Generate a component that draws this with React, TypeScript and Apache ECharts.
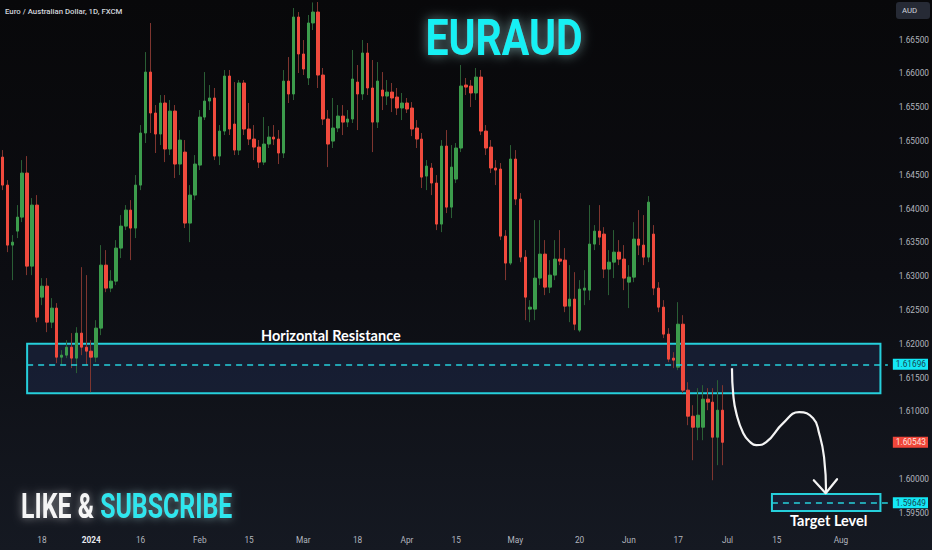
import React, { useEffect, useRef } from "react";
import * as echarts from "echarts";

// ---------- data ----------
const START_DATE = "2023-12-06";
const HOLIDAYS = ["2024-01-01"];
const CATEGORY_COUNT = 180; // trading days shown on the time axis (incl. future space)

const open = [
  1.64762, 1.64348, 1.6346, 1.63667, 1.63874, 1.64526, 1.63149, 1.64052, 1.6269, 1.62853,
  1.6232, 1.62528, 1.61802, 1.61832, 1.6195, 1.61788, 1.62158, 1.6195, 1.61891, 1.61802,
  1.62232, 1.63164, 1.62824, 1.62927, 1.63416, 1.63741, 1.63978, 1.63712, 1.64348, 1.65118,
  1.6602, 1.65414, 1.65103, 1.65562, 1.64881, 1.65443, 1.64659, 1.64836, 1.63786, 1.642,
  1.64644, 1.65354, 1.65591, 1.65636, 1.64777, 1.65147, 1.65961, 1.65251, 1.64866, 1.65858,
  1.65177, 1.65029, 1.6491, 1.64688, 1.64955, 1.65058, 1.65029, 1.64822, 1.65887, 1.65695,
  1.66834, 1.66287, 1.65932, 1.66746, 1.66908, 1.65976, 1.65325, 1.64999, 1.65192, 1.65369,
  1.6528, 1.65325, 1.65872, 1.65695, 1.66302, 1.65784, 1.6528, 1.65754, 1.65665, 1.65724,
  1.6565, 1.65488, 1.65562, 1.65488, 1.65192, 1.65029, 1.64481, 1.646, 1.64378, 1.63771,
  1.64925, 1.64022, 1.64437, 1.64896, 1.65828, 1.65813, 1.6571, 1.65946, 1.65147, 1.6491,
  1.646, 1.64585, 1.63593, 1.63194, 1.64733, 1.64141, 1.63282, 1.62513, 1.62513, 1.62972,
  1.63327, 1.62838, 1.63016, 1.63253, 1.63238, 1.62557, 1.62661, 1.62202, 1.62794, 1.62794,
  1.63475, 1.63667, 1.63623, 1.63105, 1.63208, 1.63356, 1.63253, 1.62912, 1.62986, 1.63549,
  1.6346, 1.63282, 1.63623, 1.62824, 1.62542, 1.62143, 1.61788, 1.61654, 1.6229, 1.61314,
  1.60929, 1.60766, 1.60766, 1.61181, 1.61137, 1.60618, 1.61018,
];
const close = [
  1.64348, 1.6346, 1.63504, 1.63874, 1.64526, 1.63149, 1.64052, 1.62394, 1.62853, 1.6232,
  1.62528, 1.61802, 1.61832, 1.6195, 1.61788, 1.62158, 1.6195, 1.61891, 1.61802, 1.62232,
  1.63164, 1.62824, 1.62927, 1.63416, 1.63741, 1.63978, 1.63712, 1.64348, 1.65118, 1.6602,
  1.65414, 1.65103, 1.65562, 1.64881, 1.65443, 1.64659, 1.65014, 1.63786, 1.642, 1.64659,
  1.65354, 1.65591, 1.65636, 1.64777, 1.65147, 1.65961, 1.65177, 1.64866, 1.65858, 1.65177,
  1.65029, 1.6491, 1.64688, 1.64955, 1.65058, 1.65029, 1.64822, 1.65887, 1.65695, 1.66834,
  1.66287, 1.66065, 1.66746, 1.66908, 1.65976, 1.65325, 1.64955, 1.65192, 1.65369, 1.6528,
  1.65325, 1.65917, 1.65695, 1.66302, 1.65784, 1.6528, 1.65887, 1.65665, 1.65724, 1.65636,
  1.65488, 1.65562, 1.65473, 1.65177, 1.65029, 1.64466, 1.64629, 1.64378, 1.63771, 1.64925,
  1.64022, 1.64614, 1.64896, 1.65813, 1.65798, 1.6571, 1.65946, 1.65147, 1.64896, 1.646,
  1.6457, 1.63593, 1.63194, 1.64733, 1.64141, 1.63282, 1.6269, 1.62542, 1.62972, 1.63327,
  1.62838, 1.63016, 1.63253, 1.63223, 1.62557, 1.62661, 1.6229, 1.62809, 1.62824, 1.63475,
  1.63667, 1.63578, 1.63105, 1.63208, 1.63356, 1.63253, 1.62972, 1.62986, 1.63549, 1.6346,
  1.63282, 1.64096, 1.62824, 1.62542, 1.62143, 1.61773, 1.61758, 1.6229, 1.61314, 1.60929,
  1.60766, 1.60944, 1.61181, 1.61137, 1.60618, 1.61018, 1.60543,
];
const low = [
  1.64274, 1.63356, 1.62942, 1.63564, 1.638, 1.63016, 1.63016, 1.6232, 1.62572, 1.62172,
  1.62232, 1.61714, 1.61684, 1.61788, 1.6164, 1.61566, 1.61832, 1.61684, 1.61284, 1.61728,
  1.62128, 1.62764, 1.62764, 1.62868, 1.63268, 1.63682, 1.63238, 1.63564, 1.64274, 1.6497,
  1.65118, 1.64822, 1.6494, 1.64688, 1.64792, 1.64452, 1.64496, 1.63712, 1.63504, 1.64126,
  1.6457, 1.6531, 1.65458, 1.64718, 1.64644, 1.65088, 1.65088, 1.64792, 1.64792, 1.65088,
  1.6494, 1.64718, 1.646, 1.64644, 1.64896, 1.6494, 1.64659, 1.64748, 1.65562, 1.65606,
  1.66006, 1.65976, 1.65828, 1.66642, 1.65784, 1.65236, 1.64614, 1.64896, 1.65132, 1.65088,
  1.65206, 1.65266, 1.65162, 1.65606, 1.6568, 1.64836, 1.65192, 1.65458, 1.65532, 1.65428,
  1.65384, 1.6531, 1.65414, 1.65073, 1.64896, 1.64304, 1.64274, 1.642, 1.63682, 1.63652,
  1.63934, 1.6386, 1.64378, 1.64836, 1.6568, 1.65502, 1.65606, 1.65088, 1.64792, 1.64526,
  1.64348, 1.63534, 1.62942, 1.63164, 1.64052, 1.63208, 1.6235, 1.6232, 1.6235, 1.62868,
  1.6272, 1.6275, 1.62942, 1.63164, 1.62468, 1.6232, 1.62202, 1.62172, 1.62572, 1.62646,
  1.63386, 1.6346, 1.62972, 1.6272, 1.62972, 1.63164, 1.62794, 1.62528, 1.62912, 1.63312,
  1.63164, 1.63208, 1.6272, 1.62468, 1.62084, 1.61728, 1.6164, 1.6161, 1.6127, 1.60796,
  1.60278, 1.60574, 1.60574, 1.61018, 1.59982, 1.60204, 1.60204,
];
const high = [
  1.64866, 1.64422, 1.63608, 1.64052, 1.64718, 1.64777, 1.64156, 1.642, 1.62972, 1.62972,
  1.62676, 1.62602, 1.61906, 1.62054, 1.62158, 1.62246, 1.63134, 1.63016, 1.62054, 1.6235,
  1.6346, 1.63386, 1.6309, 1.63534, 1.63904, 1.64052, 1.64126, 1.64496, 1.65236, 1.66316,
  1.66746, 1.65532, 1.6568, 1.6568, 1.65606, 1.65532, 1.65162, 1.65014, 1.64348, 1.64792,
  1.65458, 1.6602, 1.65828, 1.65784, 1.65236, 1.6605, 1.6605, 1.65872, 1.65902, 1.65902,
  1.65562, 1.65236, 1.65014, 1.65354, 1.65221, 1.65236, 1.65162, 1.6605, 1.66242, 1.66968,
  1.66908, 1.66494, 1.66864, 1.6705, 1.67056, 1.6608, 1.65458, 1.65636, 1.65532, 1.65532,
  1.65458, 1.66346, 1.66124, 1.66494, 1.6645, 1.66198, 1.66168, 1.6602, 1.65902, 1.65858,
  1.65784, 1.6571, 1.65636, 1.65576, 1.6531, 1.65118, 1.64718, 1.64674, 1.64496, 1.65014,
  1.65162, 1.6494, 1.6497, 1.66124, 1.65932, 1.65902, 1.6608, 1.6605, 1.65236, 1.65014,
  1.64718, 1.64674, 1.63682, 1.6494, 1.64866, 1.6423, 1.63386, 1.62646, 1.6383, 1.6383,
  1.63534, 1.63238, 1.63534, 1.63682, 1.63416, 1.63164, 1.6306, 1.62942, 1.6309, 1.64052,
  1.63756, 1.64052, 1.63726, 1.63386, 1.63682, 1.63534, 1.6346, 1.63164, 1.638, 1.63978,
  1.63904, 1.64185, 1.63756, 1.62912, 1.62646, 1.62232, 1.61876, 1.62616, 1.62424, 1.61432,
  1.61092, 1.61344, 1.61388, 1.61344, 1.61344, 1.61462, 1.61388,
];

const priceTicks = [1.595, 1.6, 1.61, 1.615, 1.62, 1.625, 1.63, 1.635, 1.64, 1.645, 1.65, 1.655, 1.66, 1.665];

const timeTicks: [string, string][] = [
  ["2023-12-18", "18"], ["2024-01-02", "2024"], ["2024-01-16", "16"], ["2024-02-01", "Feb"],
  ["2024-02-15", "15"], ["2024-03-01", "Mar"], ["2024-03-18", "18"], ["2024-04-01", "Apr"],
  ["2024-04-15", "15"], ["2024-05-01", "May"], ["2024-05-20", "20"], ["2024-06-03", "Jun"],
  ["2024-06-17", "17"], ["2024-07-01", "Jul"], ["2024-07-15", "15"], ["2024-08-01", "Aug"],
];
const YEAR_TICK = "2024-01-02";

// resistance zone and target zone (dates + prices)
const resistanceZone = { from: "2023-12-13", to: "2024-08-13", top: 1.62, bottom: 1.6127, level: 1.61696 };
const targetZone = { from: "2024-07-12", to: "2024-08-13", top: 1.59778, bottom: 1.59527, level: 1.59649 };

// projected path: [bar position, price]
const projectionPath: [number, number][] = [
  [147.9, 1.6164], [148.17, 1.6124], [148.78, 1.60974], [150.19, 1.60678], [151.6, 1.60545],
  [152.82, 1.605], [154.84, 1.60545], [158.28, 1.60826], [161.52, 1.60988], [164.35, 1.609],
  [165.56, 1.60678], [166.57, 1.60323], [166.98, 1.59805],
];
const arrowHead: [number, number][] = [[164.49, 1.59982], [166.9, 1.5979], [169.2, 1.59997]];

// price range of the visible pane
const Y_MIN = 1.59275;
const Y_MAX = 1.67086;

// ---------- helpers ----------
function buildDates(): string[] {
  const out: string[] = [];
  const d = new Date(START_DATE + "T00:00:00Z");
  while (out.length < CATEGORY_COUNT) {
    const wd = d.getUTCDay();
    const s = d.toISOString().slice(0, 10);
    if (wd !== 0 && wd !== 6 && !HOLIDAYS.includes(s)) out.push(s);
    d.setUTCDate(d.getUTCDate() + 1);
  }
  return out;
}

const UP = "#3c9c4c";
const DOWN = "#f04a3d";
const WICK_UP = "#2a5e35";
const WICK_DOWN = "#7e352f";
const CYAN = "#26cfdb";
const FONT = "Roboto";
const AXIS_FS = 8.3;

export default function App() {
  const ref = useRef<HTMLDivElement>(null);

  useEffect(() => {
    if (!ref.current) return;
    const chart = echarts.init(ref.current, undefined, { renderer: "svg" });
    const dates = buildDates();
    const tickMap: Record<string, string> = Object.fromEntries(timeTicks);
    const idx = (s: string) => dates.indexOf(s);
    const lastClose = close[close.length - 1];

    const ohlc = open.map((o, i) => [o, close[i], low[i], high[i]]);
    const bodies = open.map((o, i) => [o, close[i], Math.min(o, close[i]), Math.max(o, close[i])]);

    const tagLabel = (bg: string, fg: string, v: number) => ({
      show: true,
      position: "end" as const,
      distance: 5,
      formatter: () => v.toFixed(5),
      backgroundColor: bg,
      color: fg,
      fontSize: AXIS_FS,
      fontFamily: FONT,
      padding: [2, 2, 1, 3],
    });

    const dashed = { color: CYAN, width: 1.5, type: [6, 5] as any };

    chart.setOption({
      animation: false,
      backgroundColor: new echarts.graphic.LinearGradient(0, 0, 0, 1, [
        { offset: 0, color: "#08080a" },
        { offset: 0.5, color: "#0c0d12" },
        { offset: 1, color: "#151922" },
      ]),
      grid: { left: -2, right: 44, top: 0, bottom: 22 },
      xAxis: [
        {
          type: "category",
          data: dates,
          boundaryGap: true,
          axisLine: { show: false },
          axisTick: { show: false },
          splitLine: { show: false },
          axisLabel: {
            interval: (_i: number, v: string) => v in tickMap,
            formatter: (v: string) => (v === YEAR_TICK ? `{b|${tickMap[v]}}` : tickMap[v] ?? ""),
            color: "#b2b5be",
            fontSize: AXIS_FS,
            fontFamily: FONT,
            margin: 8,
            rich: { b: { fontWeight: "bold", color: "#e6e8ee", fontSize: AXIS_FS, fontFamily: FONT } },
          },
        },
        { type: "value", min: -0.5, max: CATEGORY_COUNT - 0.5, show: false },
      ],
      yAxis: {
        type: "value",
        position: "right",
        min: Y_MIN,
        max: Y_MAX,
        splitLine: { show: false },
        axisLine: { show: false },
        axisTick: { show: false },
        axisLabel: {
          customValues: priceTicks,
          formatter: (v: number) => v.toFixed(5),
          color: "#b2b5be",
          fontSize: AXIS_FS,
          fontFamily: FONT,
          margin: 11,
        },
      },
      series: [
        {
          type: "candlestick",
          name: "wicks",
          xAxisIndex: 0,
          data: ohlc,
          barWidth: 0.3,
          silent: true,
          itemStyle: { color: WICK_UP, color0: WICK_DOWN, borderColor: WICK_UP, borderColor0: WICK_DOWN, borderWidth: 1 },
        },
        {
          type: "candlestick",
          name: "bodies",
          xAxisIndex: 0,
          data: bodies,
          barWidth: 3,
          silent: true,
          itemStyle: { color: UP, color0: DOWN, borderColor: UP, borderColor0: DOWN, borderWidth: 1 },
        },
        {
          type: "line",
          name: "projection",
          xAxisIndex: 1,
          data: projectionPath,
          smooth: 0.5,
          symbol: "none",
          silent: true,
          z: 6,
          lineStyle: { color: "#f4f4f4", width: 2.2 },
          markArea: {
            silent: true,
            itemStyle: { color: "rgba(30,42,76,0.5)", borderColor: CYAN, borderWidth: 2 },
            data: [
              [
                { coord: [idx(resistanceZone.from), resistanceZone.top] },
                { coord: [idx(resistanceZone.to), resistanceZone.bottom] },
              ],
              [
                { coord: [idx(targetZone.from), targetZone.top] },
                { coord: [idx(targetZone.to), targetZone.bottom] },
              ],
            ],
          },
          markLine: {
            silent: true,
            symbol: ["none", "none"],
            data: [
              [
                { coord: [idx(resistanceZone.from), resistanceZone.level], lineStyle: dashed, label: tagLabel("#14e8f5", "#164652", resistanceZone.level) },
                { coord: [CATEGORY_COUNT - 0.5, resistanceZone.level] },
              ],
              [
                { coord: [idx(targetZone.from), targetZone.level], lineStyle: dashed, label: tagLabel("#14e8f5", "#164652", targetZone.level) },
                { coord: [CATEGORY_COUNT - 0.5, targetZone.level] },
              ],
              [
                { coord: [close.length - 1, lastClose], lineStyle: { color: "rgba(0,0,0,0)", width: 1 }, label: tagLabel("#f0463a", "#ffe3df", lastClose) },
                { coord: [CATEGORY_COUNT - 0.5, lastClose] },
              ],
            ],
          },
        },
        {
          type: "line",
          name: "arrowhead",
          xAxisIndex: 1,
          data: arrowHead,
          symbol: "none",
          silent: true,
          z: 6,
          lineStyle: { color: "#f4f4f4", width: 2.2, join: "round", cap: "round" },
        },
      ],
      graphic: [
        {
          type: "text",
          x: 5,
          y: 11,
          style: { text: "Euro / Australian Dollar, 1D, FXCM", fill: "#d1d4dc", fontSize: 7.8, fontWeight: 500, fontFamily: FONT, verticalAlign: "middle" },
        },
        {
          type: "rect",
          shape: { x: 896, y: 2, width: 34, height: 17, r: 3 },
          style: { fill: "#262a35" },
        },
        {
          type: "text",
          x: 902,
          y: 10.5,
          style: { text: "AUD", fill: "#d1d4dc", fontSize: 7.8, fontFamily: FONT, verticalAlign: "middle" },
        },
        {
          type: "text",
          x: 504,
          y: 38,
          scaleX: 0.82,
          z: 50,
          style: {
            text: "EURAUD",
            fill: "#12f0f4",
            fontSize: 50,
            fontWeight: "bold",
            fontFamily: FONT,
            align: "center",
            verticalAlign: "middle",
            textShadowColor: "rgba(190,255,255,0.55)",
            textShadowBlur: 12,
          },
        },
        {
          type: "text",
          x: 21,
          y: 506,
          scaleX: 0.71,
          z: 50,
          style: {
            text: "{w|LIKE &} {c|SUBSCRIBE}",
            fontSize: 35,
            fontWeight: "bold",
            fontFamily: FONT,
            verticalAlign: "middle",
            rich: {
              w: { fill: "#f5f5f5", fontSize: 35, fontWeight: "bold", fontFamily: FONT, textShadowColor: "rgba(255,255,255,0.5)", textShadowBlur: 8 },
              c: { fill: "#2fe6ee", fontSize: 35, fontWeight: "bold", fontFamily: FONT, textShadowColor: "rgba(200,255,255,0.5)", textShadowBlur: 8 },
            },
          },
        },
        {
          type: "text",
          x: 261,
          y: 335,
          z: 50,
          style: { text: "Horizontal Resistance", fill: "#ffffff", fontSize: 14.5, fontWeight: "bold", fontFamily: "Lato", verticalAlign: "middle" },
        },
        {
          type: "text",
          x: 790,
          y: 520.5,
          z: 50,
          style: { text: "Target Level", fill: "#ffffff", fontSize: 14.5, fontWeight: "bold", fontFamily: "Lato", verticalAlign: "middle" },
        },
      ],
    });

    return () => chart.dispose();
  }, []);

  return <div ref={ref} style={{ position: "absolute", left: 0, top: 0, width: 932, height: 550 }} />;
}
